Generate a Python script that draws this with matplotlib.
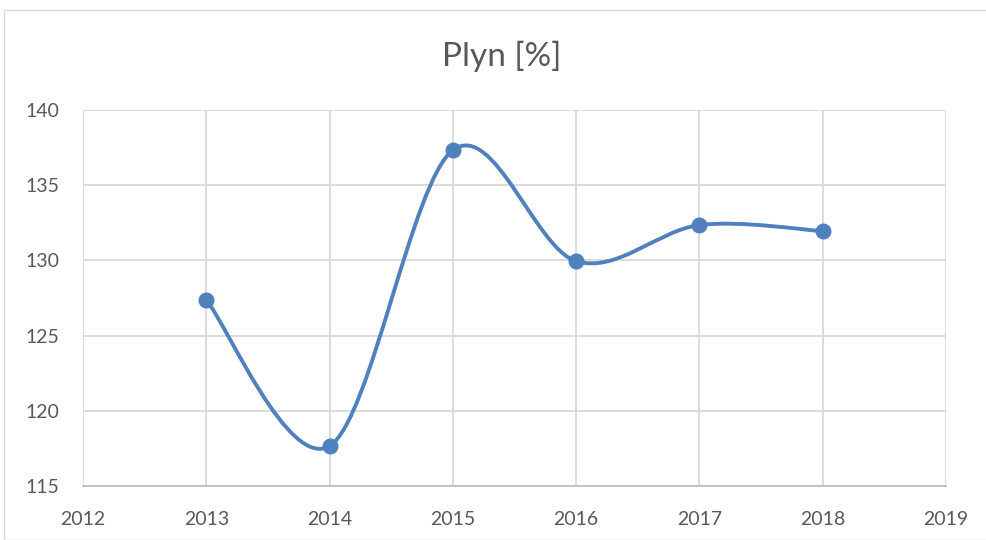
import matplotlib
matplotlib.use("Agg")
import matplotlib.pyplot as plt
from matplotlib.path import Path
from matplotlib.patches import PathPatch, Rectangle

years = [2013, 2014, 2015, 2016, 2017, 2018]
values = [127.37, 117.66, 137.33, 129.95, 132.35, 131.95]
title = "Plyn [%]"
xticks = [2012, 2013, 2014, 2015, 2016, 2017, 2018, 2019]
yticks = [115, 120, 125, 130, 135, 140]

plt.rcParams['font.family'] = ['Lato', 'DejaVu Sans']
line_color = '#4F81BD'
text_color = '#595959'
grid_color = '#D9D9D9'

fig = plt.figure(figsize=(9.87, 5.4), dpi=100)
# chart border
fig.patches.append(Rectangle((4/987, 0.0), 1.2, (540-10)/540, transform=fig.transFigure,
                             fill=False, edgecolor='#D9D9D9', linewidth=1))
ax = fig.add_axes([83/987, 54/540, (946-83)/987, (486-110)/540])
ax.set_xlim(2012, 2019)
ax.set_ylim(115, 140)
ax.set_xticks(xticks)
ax.set_yticks(yticks)
ax.set_xticklabels([str(t) for t in xticks])
ax.set_yticklabels([str(t) for t in yticks])
ax.grid(True, color=grid_color, linewidth=1.3)
ax.set_axisbelow(True)
for s in ['top', 'right', 'left']:
    ax.spines[s].set_visible(False)
ax.spines['bottom'].set_color('#BFBFBF')
ax.spines['bottom'].set_linewidth(1.3)
ax.tick_params(axis='both', length=0, labelsize=14, colors=text_color)
ax.tick_params(axis='x', pad=18)
ax.tick_params(axis='y', pad=17)

# smooth (Catmull-Rom style Bezier, like Excel smoothed line)
verts = [(years[0], values[0])]
codes = [Path.MOVETO]
n = len(years)
for i in range(n - 1):
    p0 = (years[i - 1], values[i - 1]) if i > 0 else (years[i], values[i])
    p1 = (years[i], values[i])
    p2 = (years[i + 1], values[i + 1])
    p3 = (years[i + 2], values[i + 2]) if i + 2 < n else p2
    c1 = (p1[0] + (p2[0] - p0[0]) / 6, p1[1] + (p2[1] - p0[1]) / 6)
    c2 = (p2[0] - (p3[0] - p1[0]) / 6, p2[1] - (p3[1] - p1[1]) / 6)
    verts += [c1, c2, p2]
    codes += [Path.CURVE4] * 3
ax.add_patch(PathPatch(Path(verts, codes), fill=False, edgecolor=line_color,
                       linewidth=2.8, capstyle='round', joinstyle='round', zorder=3))
ax.plot(years, values, linestyle='none', marker='o', markersize=10.5,
        color=line_color, zorder=4)

fig.text(502/987, 1 - 66/540, title, ha='center', va='baseline',
         fontsize=24, color=text_color)

fig.savefig('out.png', dpi=100)
